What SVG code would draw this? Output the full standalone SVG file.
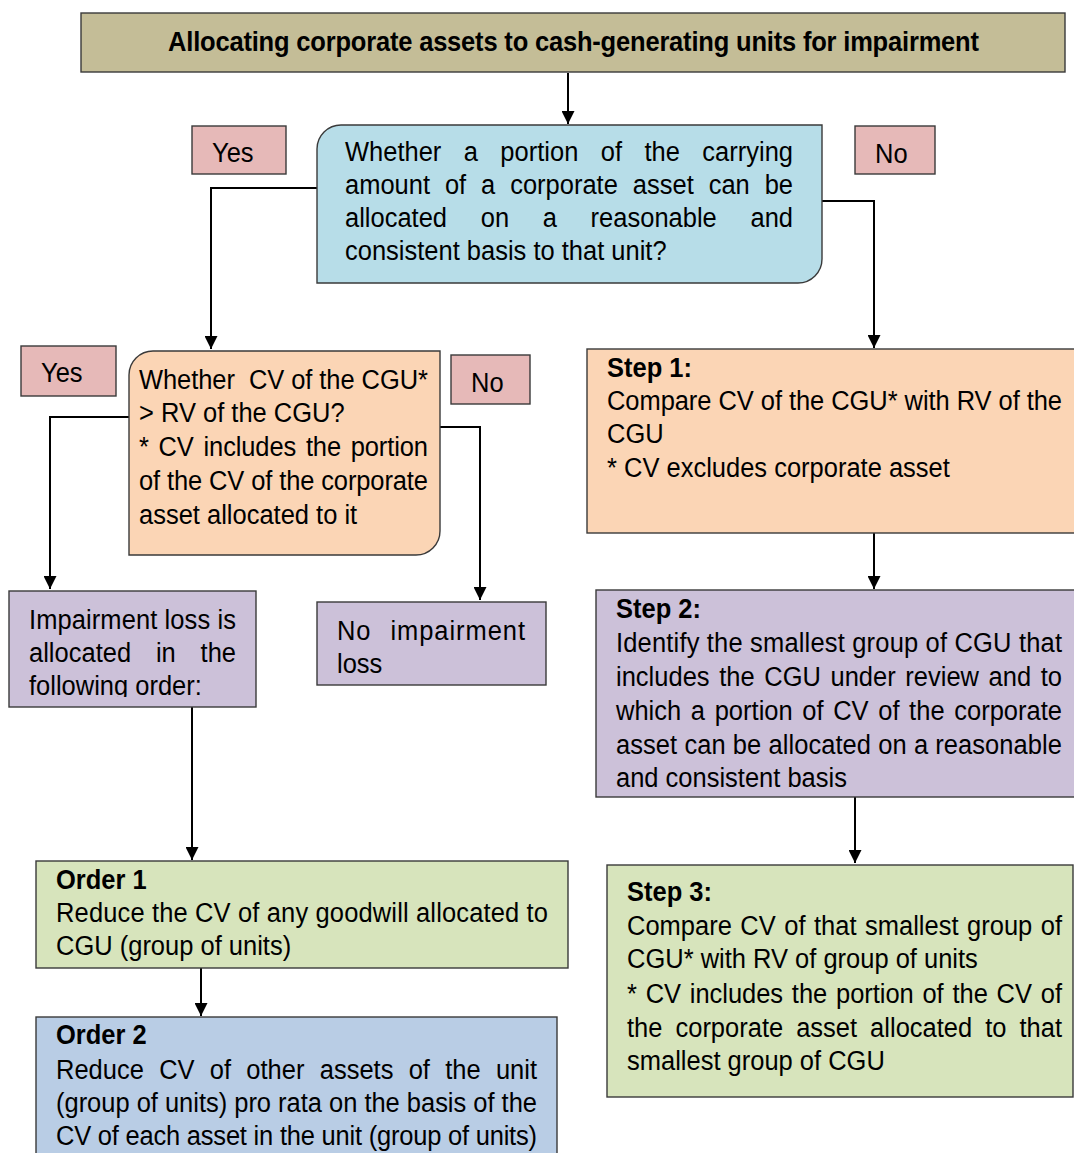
<svg xmlns="http://www.w3.org/2000/svg" width="1074" height="1153" viewBox="0 0 1074 1153">
<style>
.t{font-family:"Liberation Sans",Arial,sans-serif;font-size:25.5px;fill:#000}
.b{font-weight:bold}
.bx{stroke:#3a3a3a;stroke-width:1.4}
.lbl{fill:#e6b9b8}
.pur{fill:#ccc1d9}
.grn{fill:#d7e4bc}
.org{fill:#fbd5b5}
.con{fill:none;stroke:#000;stroke-width:2}
</style>
<defs>
<marker id="ah" viewBox="0 0 10 10" refX="10" refY="5" markerUnits="userSpaceOnUse" markerWidth="14" markerHeight="13" orient="auto">
<path d="M0,0 L10,5 L0,10 z" fill="#000"/>
</marker>
<clipPath id="clipImp"><rect x="9" y="591" width="247" height="106"/></clipPath>
</defs>
<rect width="1074" height="1153" fill="#fff"/>

<g id="connectors">
<path class="con" d="M568,73 V124" marker-end="url(#ah)"/>
<path class="con" d="M317,188 H211 V349" marker-end="url(#ah)"/>
<path class="con" d="M822,201 H874 V348" marker-end="url(#ah)"/>
<path class="con" d="M129,417 H50 V589" marker-end="url(#ah)"/>
<path class="con" d="M440,427 H480 V600" marker-end="url(#ah)"/>
<path class="con" d="M192,707 V860" marker-end="url(#ah)"/>
<path class="con" d="M201,968 V1016" marker-end="url(#ah)"/>
<path class="con" d="M874,533 V589" marker-end="url(#ah)"/>
<path class="con" d="M855,797 V863" marker-end="url(#ah)"/>
</g>

<g id="title">
<rect class="bx" x="81" y="13" width="984" height="59" fill="#c4bd97"/>
<text class="t b" transform="translate(168,51) scale(1,1.09)" font-size="25.2" textLength="811" lengthAdjust="spacing">Allocating corporate assets to cash-generating units for impairment</text>
</g>

<g id="q1">
<path class="bx" d="M341,125 H822 V259 A24,24 0 0 1 798,283 H317 V149 A24,24 0 0 1 341,125 Z" fill="#b7dde8"/>
<text class="t" transform="translate(345,161) scale(1,1.098)" word-spacing="15.3" textLength="448" lengthAdjust="spacing">Whether a portion of the carrying</text>
<text class="t" transform="translate(345,194) scale(1,1.098)" word-spacing="7.8" textLength="448" lengthAdjust="spacing">amount of a corporate asset can be</text>
<text class="t" transform="translate(345,227) scale(1,1.098)" word-spacing="26.6" textLength="448" lengthAdjust="spacing">allocated on a reasonable and</text>
<text class="t" transform="translate(345,260) scale(1,1.098)">consistent basis to that unit?</text>
</g>

<g id="yes1">
<rect class="bx lbl" x="192" y="126" width="94" height="48"/>
<text class="t" transform="translate(212,162) scale(1,1.098)">Yes</text>
</g>
<g id="no1">
<rect class="bx lbl" x="855" y="126" width="80" height="48"/>
<text class="t" transform="translate(875,163) scale(1,1.098)">No</text>
</g>

<g id="q2">
<path class="bx org" d="M153,351 H440 V531 A24,24 0 0 1 416,555 H129 V375 A24,24 0 0 1 153,351 Z"/>
<text class="t" transform="translate(139,389) scale(1,1.098)" style="white-space:pre" textLength="289" lengthAdjust="spacing">Whether  CV of the CGU*</text>
<text class="t" transform="translate(139,422) scale(1,1.098)">&gt; RV of the CGU?</text>
<text class="t" transform="translate(139,456) scale(1,1.098)" word-spacing="2.8" textLength="289" lengthAdjust="spacing">* CV includes the portion</text>
<text class="t" transform="translate(139,490) scale(1,1.098)" textLength="289" lengthAdjust="spacing">of the CV of the corporate</text>
<text class="t" transform="translate(139,524) scale(1,1.098)">asset allocated to it</text>
</g>

<g id="yes2">
<rect class="bx lbl" x="21" y="346" width="95" height="50"/>
<text class="t" transform="translate(41,382) scale(1,1.098)">Yes</text>
</g>
<g id="no2">
<rect class="bx lbl" x="451" y="355" width="79" height="49"/>
<text class="t" transform="translate(471,392) scale(1,1.098)">No</text>
</g>

<g id="impairment">
<rect class="bx pur" x="9" y="591" width="247" height="116"/>
<g clip-path="url(#clipImp)">
<text class="t" transform="translate(29,629) scale(1,1.098)" textLength="207" lengthAdjust="spacing">Impairment loss is</text>
<text class="t" transform="translate(29,662) scale(1,1.098)" word-spacing="17.7" textLength="207" lengthAdjust="spacing">allocated in the</text>
<text class="t" transform="translate(29,695) scale(1,1.098)">following order:</text>
</g>
</g>

<g id="noimpairment">
<rect class="bx pur" x="317" y="602" width="229" height="83"/>
<text class="t" transform="translate(337,640) scale(1,1.098)" word-spacing="11" textLength="188" lengthAdjust="spacing">No impairment</text>
<text class="t" transform="translate(337,673) scale(1,1.098)">loss</text>
</g>

<g id="order1">
<rect class="bx grn" x="36" y="861" width="532" height="107"/>
<text class="t b" transform="translate(56,889) scale(1,1.098)">Order 1</text>
<text class="t" transform="translate(56,922) scale(1,1.098)" textLength="492" lengthAdjust="spacing">Reduce the CV of any goodwill allocated to</text>
<text class="t" transform="translate(56,955) scale(1,1.098)">CGU (group of units)</text>
</g>

<g id="order2">
<rect class="bx" x="36" y="1017" width="521" height="150" fill="#b9cde5"/>
<text class="t b" transform="translate(56,1044) scale(1,1.098)">Order 2</text>
<text class="t" transform="translate(56,1079) scale(1,1.098)" word-spacing="8.2" textLength="481" lengthAdjust="spacing">Reduce CV of other assets of the unit</text>
<text class="t" transform="translate(56,1112) scale(1,1.098)" textLength="481" lengthAdjust="spacing">(group of units) pro rata on the basis of the</text>
<text class="t" transform="translate(56,1145) scale(1,1.098)" textLength="481" lengthAdjust="spacing">CV of each asset in the unit (group of units)</text>
</g>

<g id="step1">
<rect class="bx org" x="587" y="349" width="490" height="184"/>
<text class="t b" transform="translate(607,377) scale(1,1.098)">Step 1:</text>
<text class="t" transform="translate(607,410) scale(1,1.098)" textLength="455" lengthAdjust="spacing">Compare CV of the CGU* with RV of the</text>
<text class="t" transform="translate(607,443) scale(1,1.098)">CGU</text>
<text class="t" transform="translate(607,477) scale(1,1.098)">* CV excludes corporate asset</text>
</g>

<g id="step2">
<rect class="bx pur" x="596" y="590" width="481" height="207"/>
<text class="t b" transform="translate(616,618) scale(1,1.098)">Step 2:</text>
<text class="t" transform="translate(616,652) scale(1,1.098)" textLength="446" lengthAdjust="spacing">Identify the smallest group of CGU that</text>
<text class="t" transform="translate(616,686) scale(1,1.098)" word-spacing="2.5" textLength="446" lengthAdjust="spacing">includes the CGU under review and to</text>
<text class="t" transform="translate(616,720) scale(1,1.098)" word-spacing="2.5" textLength="446" lengthAdjust="spacing">which a portion of CV of the corporate</text>
<text class="t" transform="translate(616,754) scale(1,1.098)" textLength="446" lengthAdjust="spacing">asset can be allocated on a reasonable</text>
<text class="t" transform="translate(616,787) scale(1,1.098)">and consistent basis</text>
</g>

<g id="step3">
<rect class="bx grn" x="607" y="865" width="466" height="232"/>
<text class="t b" transform="translate(627,901) scale(1,1.098)">Step 3:</text>
<text class="t" transform="translate(627,935) scale(1,1.098)" word-spacing="1.4" textLength="435" lengthAdjust="spacing">Compare CV of that smallest group of</text>
<text class="t" transform="translate(627,968) scale(1,1.098)">CGU* with RV of group of units</text>
<text class="t" transform="translate(627,1003) scale(1,1.098)" word-spacing="1.8" textLength="435" lengthAdjust="spacing">* CV includes the portion of the CV of</text>
<text class="t" transform="translate(627,1037) scale(1,1.098)" word-spacing="5.9" textLength="435" lengthAdjust="spacing">the corporate asset allocated to that</text>
<text class="t" transform="translate(627,1070) scale(1,1.098)">smallest group of CGU</text>
</g>
</svg>
